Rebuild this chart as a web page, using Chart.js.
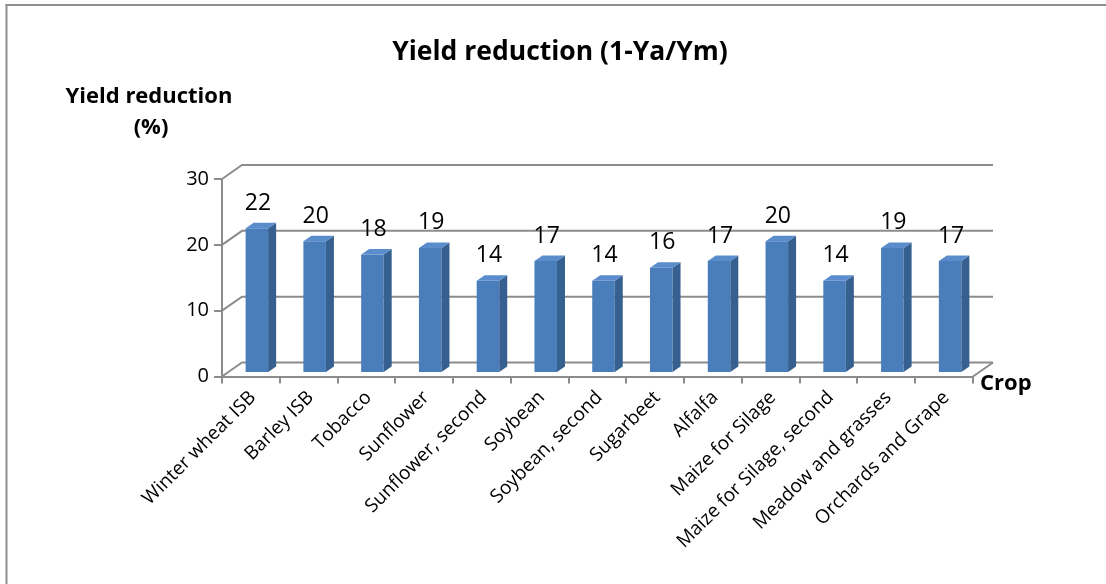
<!DOCTYPE html>
<html>
<head>
<meta charset="utf-8">
<title>Yield reduction</title>
<script src="https://cdn.jsdelivr.net/npm/chart.js@4.4.1/dist/chart.umd.min.js"></script>
<style>
  html, body { margin: 0; padding: 0; background: #ffffff; overflow: hidden; }
  #wrap { width: 1106px; height: 584px; position: relative; }
  canvas { display: block; }
</style>
</head>
<body>
<div id="wrap"><canvas id="chart" width="1106" height="584"></canvas></div>
<script>
// ---- data ----
const categories = [
  'Winter wheat ISB', 'Barley ISB', 'Tobacco', 'Sunflower', 'Sunflower, second',
  'Soybean', 'Soybean, second', 'Sugarbeet', 'Alfalfa', 'Maize for Silage',
  'Maize for Silage, second', 'Meadow and grasses', 'Orchards and Grape'
];
const yieldReduction = [22, 20, 18, 19, 14, 17, 14, 16, 17, 20, 14, 19, 17];
const yTickValues = [0, 10, 20, 30];

const chartTitle = 'Yield reduction (1-Ya/Ym)';
const yTitleLines = ['Yield reduction', '(%)'];
const xTitle = 'Crop';

// ---- look ----
const FONT = "'Open Sans', Lato, sans-serif";
const GRID = '#8c8c8c';
const FRONT = '#4a7ebb';
const SIDE = '#36608f';
const TOP = '#5b8dcc';
const WALL = { dx: 20, dy: -14 };       // depth of floor / back wall
const BAR_SHIFT = { dx: 6, dy: -3.5 };  // bars sit a little behind the front edge
const BAR_DEPTH = { dx: 8, dy: -5.5 };  // thickness of each column

// back-wall gridlines, the floor and its side edges
const wallPlugin = {
  id: 'wall',
  beforeDatasetsDraw(chart) {
    const { ctx, chartArea: a, scales: { y } } = chart;
    ctx.save();
    ctx.strokeStyle = GRID;
    ctx.lineWidth = 2;
    yTickValues.forEach(v => {
      const py = y.getPixelForValue(v);
      ctx.beginPath();
      ctx.moveTo(a.left, py);
      ctx.lineTo(a.left + WALL.dx, py + WALL.dy);
      ctx.lineTo(a.right + WALL.dx, py + WALL.dy);
      ctx.stroke();
    });
    const p0 = y.getPixelForValue(0);
    ctx.beginPath();
    ctx.moveTo(a.right, p0);
    ctx.lineTo(a.right + WALL.dx, p0 + WALL.dy);
    ctx.stroke();
    ctx.restore();
  }
};

// columns: the library draws the front face, this adds the side and top faces
const columnPlugin = {
  id: 'column3d',
  beforeDatasetDraw(chart) {
    chart.ctx.save();
    chart.ctx.translate(BAR_SHIFT.dx, BAR_SHIFT.dy);
  },
  afterDatasetDraw(chart, args) {
    const ctx = chart.ctx;
    args.meta.data.forEach(bar => {
      const { x, y, base, width } = bar.getProps(['x', 'y', 'base', 'width'], true);
      const l = x - width / 2, r = x + width / 2;
      ctx.fillStyle = SIDE;
      ctx.beginPath();
      ctx.moveTo(r, y);
      ctx.lineTo(r + BAR_DEPTH.dx, y + BAR_DEPTH.dy);
      ctx.lineTo(r + BAR_DEPTH.dx, base + BAR_DEPTH.dy);
      ctx.lineTo(r, base);
      ctx.closePath();
      ctx.fill();
      ctx.fillStyle = TOP;
      ctx.beginPath();
      ctx.moveTo(l, y);
      ctx.lineTo(l + BAR_DEPTH.dx, y + BAR_DEPTH.dy);
      ctx.lineTo(r + BAR_DEPTH.dx, y + BAR_DEPTH.dy);
      ctx.lineTo(r, y);
      ctx.closePath();
      ctx.fill();
    });
    ctx.restore();
  }
};

// value labels above each column
const valueLabelPlugin = {
  id: 'valueLabels',
  afterDatasetsDraw(chart) {
    const ctx = chart.ctx;
    const meta = chart.getDatasetMeta(0);
    const values = chart.data.datasets[0].data;
    ctx.save();
    ctx.fillStyle = '#000000';
    ctx.font = `23px ${FONT}`;
    ctx.textAlign = 'center';
    ctx.textBaseline = 'middle';
    meta.data.forEach((bar, i) => {
      const { x, y } = bar.getProps(['x', 'y'], true);
      ctx.fillText(String(values[i]), x + BAR_SHIFT.dx + 1, y + BAR_SHIFT.dy - 25);
    });
    ctx.restore();
  }
};

// titles and the outer frame
const textPlugin = {
  id: 'texts',
  afterDraw(chart) {
    const { ctx, chartArea: a } = chart;
    ctx.save();
    ctx.fillStyle = '#8f8f8f';
    ctx.fillRect(5.5, 4, 2, 580);
    ctx.fillRect(5.5, 4, 1101, 2);

    ctx.fillStyle = '#000000';
    ctx.textAlign = 'center';
    ctx.textBaseline = 'middle';
    ctx.font = `bold 26.5px ${FONT}`;
    ctx.fillText(chartTitle, 560, 52);

    ctx.font = `bold 22px ${FONT}`;
    ctx.fillText(yTitleLines[0], 149, 97);
    ctx.fillText(yTitleLines[1], 151, 128);

    ctx.textAlign = 'left';
    ctx.fillText(xTitle, a.right + 7, a.bottom + 7);
    ctx.restore();
  }
};

new Chart(document.getElementById('chart'), {
  type: 'bar',
  data: {
    labels: categories,
    datasets: [{
      data: yieldReduction,
      backgroundColor: FRONT,
      borderWidth: 0,
      categoryPercentage: 1,
      barPercentage: 0.39
    }]
  },
  options: {
    responsive: false,
    animation: false,
    devicePixelRatio: 1,
    layout: { padding: { left: 0, top: 179, right: 133, bottom: 0 } },
    plugins: {
      legend: { display: false },
      title: { display: false },
      tooltip: { enabled: false }
    },
    scales: {
      x: {
        grid: { drawOnChartArea: false, drawTicks: true, tickLength: 7, color: GRID, lineWidth: 2 },
        border: { display: true, color: GRID, width: 2 },
        ticks: {
          color: '#000000',
          font: { family: FONT, size: 19 },
          minRotation: 45,
          maxRotation: 45,
          autoSkip: false,
          padding: 3,
          labelOffset: 2
        },
        afterFit(scale) { scale.height = 207.5; }
      },
      y: {
        min: 0,
        max: 30,
        afterBuildTicks(scale) { scale.ticks = yTickValues.map(v => ({ value: v })); },
        grid: { drawOnChartArea: false, drawTicks: true, tickLength: 8, color: GRID, lineWidth: 2 },
        border: { display: true, color: GRID, width: 2 },
        ticks: {
          color: '#000000',
          font: { family: FONT, size: 20 },
          padding: 5
        },
        afterFit(scale) { scale.width = 222; }
      }
    }
  },
  plugins: [wallPlugin, columnPlugin, valueLabelPlugin, textPlugin]
});
</script>
</body>
</html>
